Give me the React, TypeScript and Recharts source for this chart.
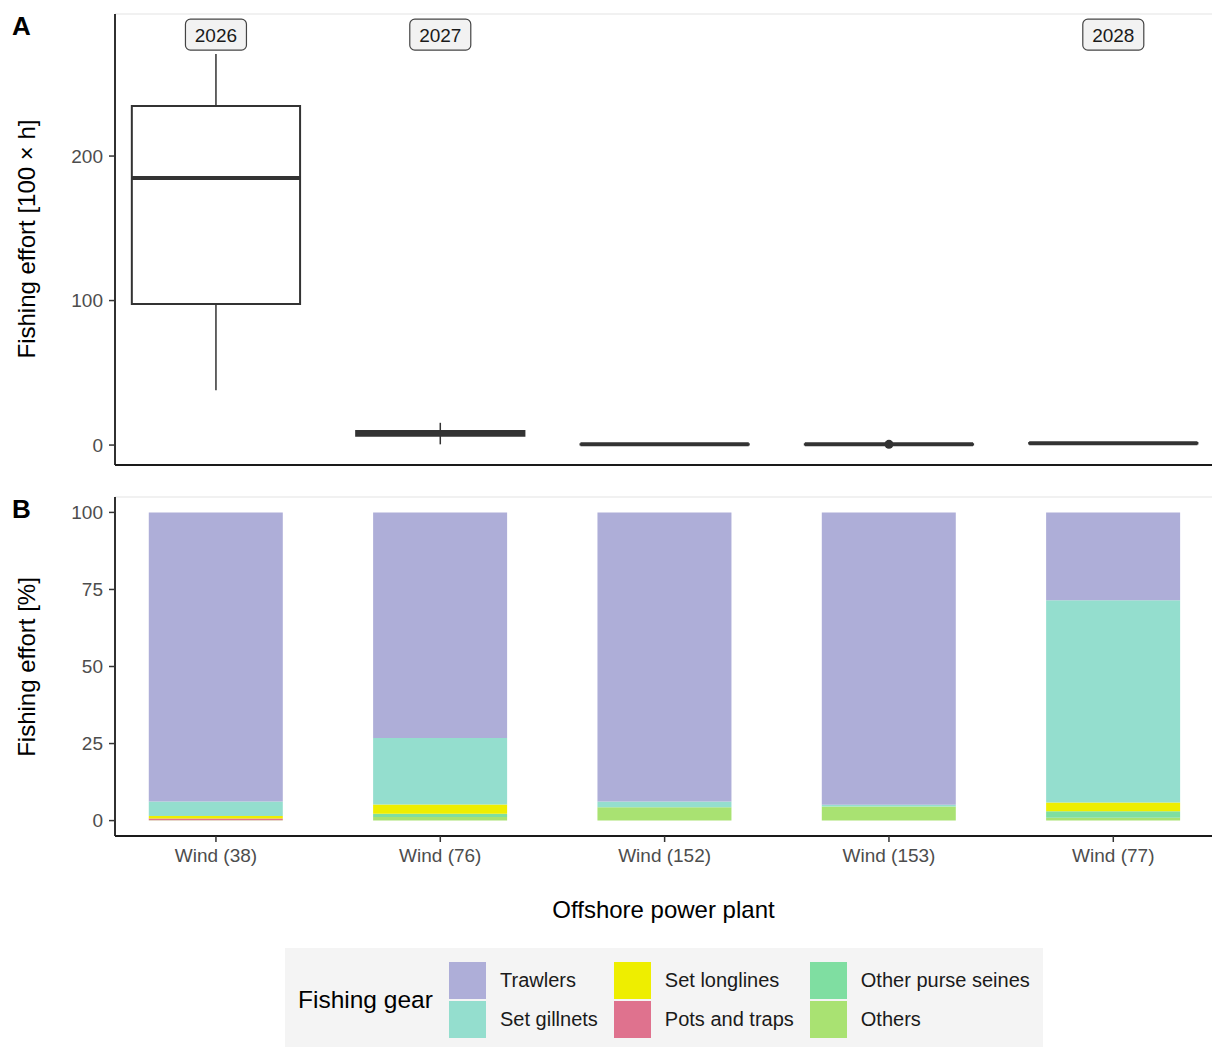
import React from 'react';
import {
  ComposedChart,
  Bar,
  XAxis,
  YAxis,
  ReferenceArea,
  ReferenceLine,
  Scatter,
} from 'recharts';

const FONT = '"Liberation Sans", Arial, Helvetica, sans-serif';

// ---- Categories ----
const categories = ['Wind (38)', 'Wind (76)', 'Wind (152)', 'Wind (153)', 'Wind (77)'];
const categoryTicks = [1, 2, 3, 4, 5];

// ---- Panel A: box plot statistics (fishing effort, 100 x h) ----
const boxMin = [38, 0.5, 0.1, 0.1, 0.9];
const boxQ1 = [97.6, 6.4, 0.4, 0.4, 1.1];
const boxMedian = [184.8, 8, 0.5, 0.5, 1.3];
const boxQ3 = [234.6, 9.8, 0.6, 0.6, 1.5];
const boxMax = [270.6, 15.4, 0.9, 0.9, 1.8];
const outlierPoints = [{ x: 4, y: 0.5 }];
const yearLabels = [
  { x: 1, y: 284, label: '2026' },
  { x: 2, y: 284, label: '2027' },
  { x: 5, y: 284, label: '2028' },
];
const effortTicks = [0, 100, 200];

// ---- Panel B: share of fishing effort by gear (%) ----
const gearNames = ['Trawlers', 'Set gillnets', 'Set longlines', 'Pots and traps', 'Other purse seines', 'Others'];
const gearColors = ['#AEAED8', '#94DECE', '#EEEE00', '#DF728E', '#7FDEA1', '#A9E272'];
const trawlers = [93.8, 73.2, 93.8, 94.9, 28.5];
const setGillnets = [4.7, 21.6, 1.9, 0.5, 65.6];
const setLonglines = [0.8, 3.0, 0, 0, 2.9];
const potsAndTraps = [0.6, 0, 0, 0, 0];
const otherPurseSeines = [0, 1.0, 0, 0, 2.1];
const others = [0.1, 1.2, 4.3, 4.6, 0.9];
const gearSeries = [trawlers, setGillnets, setLonglines, potsAndTraps, otherPurseSeines, others];
const percentTicks = [0, 25, 50, 75, 100];

const BOX_HALF = 0.375;
const AXIS_COLOR = '#1a1a1a';
const TICK_TEXT = '#4D4D4D';

const YearLabelShape = (props: any) => {
  const { cx, cy, payload } = props;
  if (cx == null || cy == null) return <g />;
  const w = 61;
  const h = 31;
  return (
    <g>
      <rect x={cx - w / 2} y={cy - h / 2} width={w} height={h} rx={5} ry={5} fill="#F2F2F2" stroke="#444" strokeWidth={1.2} />
      <text x={cx} y={cy + 7} textAnchor="middle" fontSize={19} fill="#1a1a1a" fontFamily={FONT}>
        {payload.label}
      </text>
    </g>
  );
};

export default function App() {
  const tableB = categories.map((name, i) => {
    const row: any = { x: i + 1, name };
    gearNames.forEach((g, k) => {
      row['g' + k] = gearSeries[k][i];
    });
    return row;
  });

  const stackOrder = [5, 4, 3, 2, 1, 0]; // bottom to top

  return (
    <div
      style={{
        position: 'absolute',
        left: 0,
        top: 0,
        width: 1212,
        height: 1047,
        overflow: 'hidden',
        background: '#fff',
        fontFamily: FONT,
      }}
    >
      {/* Panel A */}
      <div style={{ position: 'absolute', left: 0, top: 0 }}>
        <ComposedChart width={1212} height={480} margin={{ top: 14, right: 0, bottom: 0, left: 0 }}>
          <XAxis
            type="number"
            dataKey="x"
            domain={[0.55, 5.44]}
            ticks={categoryTicks}
            allowDataOverflow
            tick={false}
            height={15}
            tickSize={6}
            axisLine={{ stroke: AXIS_COLOR, strokeWidth: 1.8 }}
            tickLine={{ stroke: '#333', strokeWidth: 1.5 }}
          />
          <YAxis
            type="number"
            domain={[-13.8, 298.3]}
            ticks={effortTicks}
            allowDataOverflow
            width={115}
            tickSize={6}
            tickMargin={6}
            tick={{ fill: TICK_TEXT, fontSize: 19 }}
            axisLine={{ stroke: AXIS_COLOR, strokeWidth: 1.8 }}
            tickLine={{ stroke: '#333', strokeWidth: 1.5 }}
          />
          <ReferenceLine y={298.3} stroke="#E3E3E3" strokeWidth={1.2} ifOverflow="visible" />
          {categories.map((c, i) => (
            <ReferenceLine
              key={'wu' + c}
              segment={[{ x: i + 1, y: boxQ3[i] }, { x: i + 1, y: boxMax[i] }]}
              stroke="#333"
              strokeWidth={1.5}
              ifOverflow="visible"
            />
          ))}
          {categories.map((c, i) => (
            <ReferenceLine
              key={'wl' + c}
              segment={[{ x: i + 1, y: boxMin[i] }, { x: i + 1, y: boxQ1[i] }]}
              stroke="#333"
              strokeWidth={1.5}
              ifOverflow="visible"
            />
          ))}
          {categories.map((c, i) => (
            <ReferenceArea
              key={'box' + c}
              x1={i + 1 - BOX_HALF}
              x2={i + 1 + BOX_HALF}
              y1={boxQ1[i]}
              y2={boxQ3[i]}
              fill="#ffffff"
              fillOpacity={1}
              stroke="#333"
              strokeWidth={2}
              ifOverflow="visible"
            />
          ))}
          {categories.map((c, i) => (
            <ReferenceLine
              key={'med' + c}
              segment={[{ x: i + 1 - BOX_HALF, y: boxMedian[i] }, { x: i + 1 + BOX_HALF, y: boxMedian[i] }]}
              stroke="#333"
              strokeWidth={4}
              ifOverflow="visible"
            />
          ))}
          <Scatter data={outlierPoints} dataKey="y" fill="#333" isAnimationActive={false} />
          <Scatter data={yearLabels} dataKey="y" shape={YearLabelShape} isAnimationActive={false} />
        </ComposedChart>
      </div>

      {/* Panel B */}
      <div style={{ position: 'absolute', left: 0, top: 480 }}>
        <ComposedChart width={1212} height={460} data={tableB} margin={{ top: 17, right: 0, bottom: 0, left: 0 }}>
          <XAxis
            type="number"
            dataKey="x"
            domain={[0.55, 5.44]}
            ticks={categoryTicks}
            allowDataOverflow
            height={104}
            tickSize={6}
            tickMargin={7}
            tickFormatter={(v: number) => categories[v - 1]}
            tick={{ fill: TICK_TEXT, fontSize: 19 }}
            axisLine={{ stroke: AXIS_COLOR, strokeWidth: 1.8 }}
            tickLine={{ stroke: '#333', strokeWidth: 1.5 }}
            label={{ value: 'Offshore power plant', position: 'insideBottom', offset: 22, fill: '#000', fontSize: 24 }}
          />
          <YAxis
            type="number"
            domain={[-5, 105]}
            ticks={percentTicks}
            allowDataOverflow
            width={115}
            tickSize={6}
            tickMargin={6}
            tick={{ fill: TICK_TEXT, fontSize: 19 }}
            axisLine={{ stroke: AXIS_COLOR, strokeWidth: 1.8 }}
            tickLine={{ stroke: '#333', strokeWidth: 1.5 }}
          />
          <ReferenceLine y={105} stroke="#E3E3E3" strokeWidth={1.2} ifOverflow="visible" />
          {stackOrder.map((k) => (
            <Bar
              key={gearNames[k]}
              dataKey={'g' + k}
              name={gearNames[k]}
              stackId="gear"
              fill={gearColors[k]}
              barSize={134}
              isAnimationActive={false}
            />
          ))}
        </ComposedChart>
      </div>

      {/* Titles and panel tags */}
      <svg
        width={1212}
        height={1047}
        style={{ position: 'absolute', left: 0, top: 0, pointerEvents: 'none' }}
        fontFamily={FONT}
      >
        <text x={12} y={35} fontSize={26} fontWeight="bold" fill="#000">A</text>
        <text x={12} y={518} fontSize={26} fontWeight="bold" fill="#000">B</text>
        <text transform="translate(35,239) rotate(-90)" textAnchor="middle" fontSize={24} fill="#000">
          Fishing effort [100 × h]
        </text>
        <text transform="translate(35,667) rotate(-90)" textAnchor="middle" fontSize={24} fill="#000">
          Fishing effort [%]
        </text>
      </svg>

      {/* Legend */}
      <div
        style={{
          position: 'absolute',
          left: 285,
          top: 948,
          width: 758,
          height: 104,
          background: '#F4F4F4',
          display: 'flex',
          alignItems: 'center',
          boxSizing: 'border-box',
          paddingLeft: 13,
        }}
      >
        <div style={{ width: 151, fontSize: 24.5, color: '#000', whiteSpace: 'nowrap' }}>Fishing gear</div>
        <div
          style={{
            display: 'grid',
            gridTemplateRows: '37px 37px',
            gridAutoFlow: 'column',
            rowGap: 2,
            columnGap: 16,
          }}
        >
          {gearNames.map((g, k) => (
            <div key={g} style={{ display: 'flex', alignItems: 'center' }}>
              <div style={{ width: 37, height: 37, background: gearColors[k], marginRight: 14 }} />
              <span style={{ fontSize: 20, color: '#1a1a1a', whiteSpace: 'nowrap' }}>{g}</span>
            </div>
          ))}
        </div>
      </div>
    </div>
  );
}
